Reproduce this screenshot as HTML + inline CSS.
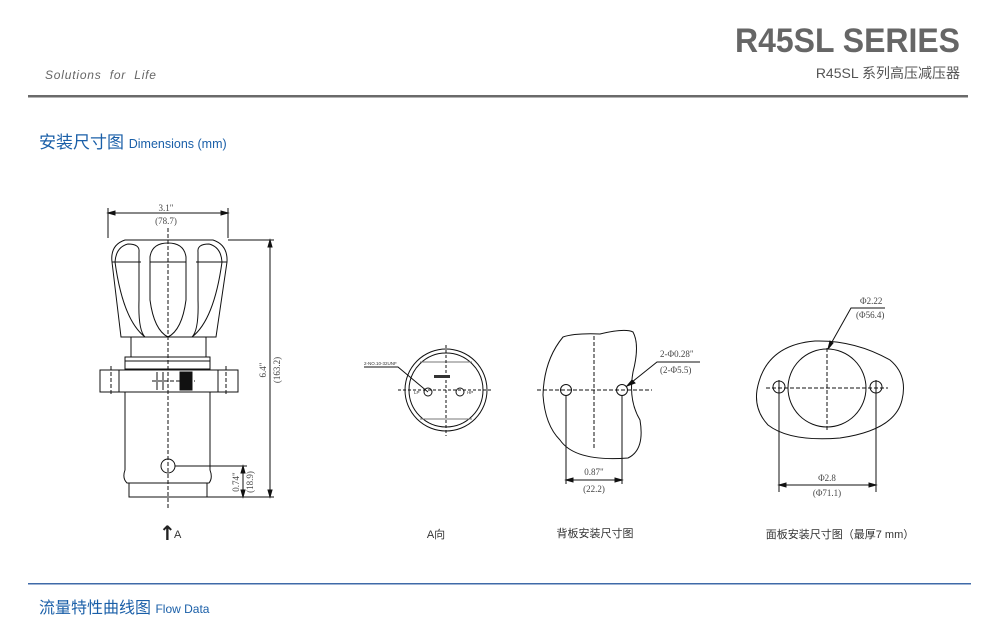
<!DOCTYPE html>
<html><head><meta charset="utf-8"><style>
html,body{margin:0;padding:0;background:#fff;width:989px;height:628px;overflow:hidden}
svg{display:block}
.cj{font-family:"Liberation Sans","Noto Sans CJK SC",sans-serif}
.dm{font-family:"Liberation Serif","Noto Serif CJK SC",serif;font-size:9px;fill:#444}
</style></head><body>
<svg width="989" height="628" viewBox="0 0 989 628" xmlns="http://www.w3.org/2000/svg">
<!-- header -->
<text x="735" y="52" textLength="225" lengthAdjust="spacingAndGlyphs" font-family="Liberation Sans,sans-serif" font-weight="bold" font-size="34" fill="#666">R45SL SERIES</text>
<text x="960" y="78" text-anchor="end" class="cj" font-size="14" fill="#555">R45SL 系列高压减压器</text>
<text x="45" y="79" font-family="Liberation Sans,sans-serif" font-style="italic" font-size="12" fill="#666" letter-spacing="0.8" word-spacing="4">Solutions for Life</text>
<rect x="28" y="95" width="940" height="2.5" fill="#6a6a6a"/>
<text x="39" y="148" class="cj" font-size="17" fill="#1a5fa8">安装尺寸图 <tspan font-size="12.5">Dimensions (mm)</tspan></text>
<rect x="28" y="583" width="943" height="1.5" fill="#3f6aa8"/>
<text x="39" y="613" class="cj" font-size="16" fill="#1a5fa8">流量特性曲线图 <tspan font-size="12">Flow Data</tspan></text>

<g fill="none" stroke="#111" stroke-width="1">
<!-- drawing 1 -->
<path d="M108 238 L108 208 M228 238 L228 208"/>
<path d="M108 213 H228" />
<path d="M108 213 l7 -2 v4z M228 213 l-7 -2 v4z" fill="#111"/>
<path d="M228 240 H274 M207 497 H274 M270 240 V497"/>
<path d="M270 240 l-2 7 h4z M270 497 l-2 -7 h4z" fill="#111"/>
<path d="M175 466 H247 M243 466 V497"/>
<path d="M243 466 l-2 7 h4z M243 497 l-2 -7 h4z" fill="#111"/>
<!-- knob -->
<path d="M112 262 Q110 245 125 240 L213 240 Q228 245 227 262 L216 337 L121 337 Z"/>
<path d="M112 262 H141 M196 262 H227 M150 262 H186"/>
<path d="M115 262 Q116 247 128 244 Q140 244 139 252 L139 300 Q138 330 145 337 Q123 320 115 262"/>
<path d="M150 257 Q152 243 168 243 Q184 243 186 257 L186 300 Q182 330 168 337 Q154 330 150 300 Z"/>
<path d="M222 262 Q221 247 209 244 Q197 244 198 252 L198 300 Q199 330 192 337 Q214 320 222 262"/>
<rect x="131" y="337" width="75" height="20"/>
<rect x="125" y="357" width="85" height="12"/>
<path d="M125 361 H210"/>
<rect x="100" y="370" width="138" height="22"/>
<path d="M119 370 V392 M218 370 V392"/>
<path d="M125 392 V470 Q122 478 127 483 H209 Q213 478 210 470 V392"/>
<rect x="129" y="483" width="78" height="14"/>
<rect x="180" y="372" width="12" height="18" fill="#111"/>
<path d="M157 372 V390 M163 372 V390"/>
<circle cx="168" cy="466" r="7"/>
<path d="M168 228 V510 M152 381 H195 M111 366 V396 M226 366 V396" stroke-dasharray="4 2"/>

<!-- drawing 2 -->
<circle cx="446" cy="390" r="41"/>
<circle cx="446" cy="390" r="37"/>
<path d="M420 362 H472 M420 419 H472" stroke="#777"/>
<path d="M446 345 V436 M398 390 H492" stroke-dasharray="3 2"/>
<circle cx="428" cy="392" r="4"/><circle cx="460" cy="392" r="4"/>
<path d="M364 367 H398 L428 392"/>
<rect x="434" y="375" width="16" height="3" fill="#333" stroke="none"/>

<!-- drawing 3 -->
<path d="M563 337 Q575 333 600 334 Q625 328 633 332 Q640 345 633 372 Q628 400 640 420 Q645 450 628 458 Q575 462 560 440 Q545 425 543 395 Q544 360 563 337 Z"/>
<circle cx="566" cy="390" r="5.5"/><circle cx="622" cy="390" r="5.5"/>
<path d="M594 336 V448 M537 390 H652" stroke-dasharray="4 2"/>
<path d="M566 395 V484 M622 395 V484 M566 480 H622"/>
<path d="M566 480 l7 -2 v4z M622 480 l-7 -2 v4z" fill="#111"/>
<path d="M627 386 L657 362 H700"/>
<path d="M627 386 l5 -6 l3 3z" fill="#111"/>

<!-- drawing 4 -->
<path d="M757 390 Q765 345 815 341 Q855 340 890 360 Q908 375 902 400 Q895 430 840 438 Q790 442 768 425 Q754 410 757 390 Z"/>
<circle cx="827" cy="388" r="39"/>
<circle cx="779" cy="387" r="6"/><circle cx="876" cy="387" r="6"/>
<path d="M827 348 V430 M766 388 H888" stroke-dasharray="4 2"/>
<path d="M779 380 V492 M876 380 V492 M779 485 H876"/>
<path d="M779 485 l7 -2 v4z M876 485 l-7 -2 v4z" fill="#111"/>
<path d="M828 349 L851 308 H885"/>
<path d="M828 349 l2 -8 l3 2z" fill="#111"/>
</g>
<text x="166" y="211" class="dm" text-anchor="middle">3.1"</text>
<text x="166" y="224" class="dm" text-anchor="middle">(78.7)</text>
<text transform="translate(266 370) rotate(-90)" class="dm" text-anchor="middle">6.4"</text>
<text transform="translate(280 370) rotate(-90)" class="dm" text-anchor="middle">(163.2)</text>
<text transform="translate(239 482) rotate(-90)" class="dm" text-anchor="middle">0.74"</text>
<text transform="translate(253 482) rotate(-90)" class="dm" text-anchor="middle">(18.9)</text>
<text x="364" y="365" font-family="Liberation Sans,sans-serif" font-size="4.5" fill="#333">2-NO.10-32UNF</text>
<text x="414" y="394" font-family="Liberation Sans,sans-serif" font-size="4.5" fill="#333">LP</text>
<text x="467" y="394" font-family="Liberation Sans,sans-serif" font-size="4.5" fill="#333">HP</text>
<text x="660" y="357" class="dm">2-Φ0.28"</text>
<text x="660" y="373" class="dm">(2-Φ5.5)</text>
<text x="594" y="475" class="dm" text-anchor="middle">0.87"</text>
<text x="594" y="492" class="dm" text-anchor="middle">(22.2)</text>
<text x="860" y="304" class="dm">Φ2.22</text>
<text x="856" y="318" class="dm">(Φ56.4)</text>
<text x="827" y="481" class="dm" text-anchor="middle">Φ2.8</text>
<text x="827" y="496" class="dm" text-anchor="middle">(Φ71.1)</text>
<text x="159" y="540" font-family="DejaVu Sans,sans-serif" font-weight="bold" font-size="20" fill="#222">↑</text>
<text x="174" y="538" font-family="Liberation Sans,sans-serif" font-size="11" fill="#333">A</text>
<text x="436" y="538" text-anchor="middle" class="cj" font-size="11" fill="#333">A向</text>
<text x="595" y="537" text-anchor="middle" class="cj" font-size="11" fill="#333">背板安装尺寸图</text>
<text x="840" y="538" text-anchor="middle" class="cj" font-size="11" fill="#333">面板安装尺寸图（最厚7 mm）</text>
</svg>
</body></html>
